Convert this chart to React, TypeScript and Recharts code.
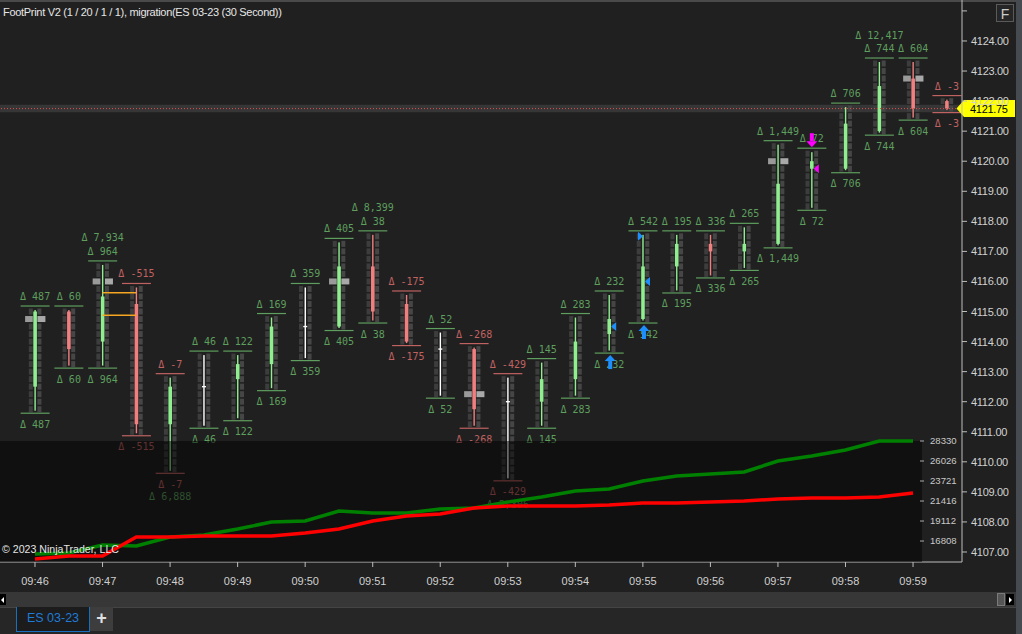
import React from 'react';
import { ComposedChart, Bar, XAxis, YAxis, ReferenceLine, ReferenceArea, LineChart, Line } from 'recharts';

// ---------- data ----------
const barIndex = [0, 1, 2, 3, 4, 5, 6, 7, 8, 9, 10, 11, 12, 13, 14, 15, 16, 17, 18, 19, 20, 21, 22, 23, 24, 25, 26, 27];
const opens = [4112.5, 4115.0, 4114.0, 4115.25, 4111.25, 4112.5, 4112.75, 4113.25, 4114.5, 4114.5, 4116.5, 4115.25, 4113.75, 4113.75, 4112.0, 4112.0, 4112.75, 4114.25, 4114.75, 4116.5, 4117.25, 4117.0, 4117.25, 4119.75, 4119.75, 4121.0, 4122.75, 4122.0];
const highs = [4115.0, 4115.0, 4116.5, 4115.75, 4112.75, 4113.5, 4113.5, 4114.75, 4115.75, 4117.25, 4117.5, 4115.5, 4114.25, 4113.75, 4112.75, 4113.25, 4114.75, 4115.5, 4117.5, 4117.5, 4117.5, 4117.75, 4120.5, 4120.25, 4121.75, 4123.25, 4123.25, 4122.0];
const lows = [4111.75, 4113.25, 4113.25, 4111.0, 4109.75, 4111.25, 4111.5, 4112.5, 4113.5, 4114.5, 4114.75, 4114.0, 4112.25, 4111.25, 4109.5, 4111.25, 4112.25, 4113.75, 4114.75, 4115.75, 4116.25, 4116.5, 4117.25, 4118.5, 4119.75, 4121.0, 4121.5, 4121.75];
const closes = [4115.0, 4113.75, 4115.5, 4111.25, 4112.5, 4112.5, 4113.25, 4114.5, 4114.5, 4116.5, 4115.0, 4114.0, 4113.75, 4111.75, 4112.0, 4112.75, 4114.0, 4114.75, 4116.5, 4117.25, 4117.0, 4117.25, 4119.25, 4120.0, 4121.25, 4122.5, 4121.75, 4121.75];
const deltas = [487, 60, 964, -515, -7, 46, 122, 169, 359, 405, 38, -175, 52, -268, -429, 145, 283, 232, 542, 195, 336, 265, 1449, 72, 706, 744, 604, -3];
const pocs: (number | null)[] = [4114.75, null, 4116.0, null, null, null, null, null, null, 4116.0, null, null, null, 4112.25, null, null, null, null, null, null, null, null, 4120.0, null, null, null, 4122.75, null];
const topExtra = [{ bar: 2, text: 'Δ 7,934' }, { bar: 10, text: 'Δ 8,399' }, { bar: 25, text: 'Δ 12,417' }];
const bottomExtra = [{ bar: 4, text: 'Δ 6,888' }, { bar: 14, text: 'Δ 5,306' }];
const upArrows = [17, 18];
const downArrows = [23];
const sideMarks = [
  { bar: 17, price: 4114.5, dir: 'left', color: '#1e8fff' },
  { bar: 18, price: 4116.0, dir: 'left', color: '#1e8fff' },
  { bar: 18, price: 4117.5, dir: 'right', color: '#1e8fff' },
  { bar: 23, price: 4119.75, dir: 'left', color: '#ff00ff' },
];
const zones = [{ from: 2, to: 3, top: 4115.625, bottom: 4114.875 }];
const timeLabels = ['09:46', '09:47', '09:48', '09:49', '09:50', '09:51', '09:52', '09:53', '09:54', '09:55', '09:56', '09:57', '09:58', '09:59'];
const timeTicks = [0, 2, 4, 6, 8, 10, 12, 14, 16, 18, 20, 22, 24, 26];
const priceTicks = [4107, 4108, 4109, 4110, 4111, 4112, 4113, 4114, 4115, 4116, 4117, 4118, 4119, 4120, 4121, 4122, 4123, 4124, 4125];
const lastPrice = 4121.75;

const buyLine = [15312, 15427, 16349, 16234, 17271, 17501, 18192, 19000, 19114, 20266, 20036, 20036, 20496, 20612, 21303, 21879, 22570, 22800, 23722, 24298, 24528, 24759, 26026, 26602, 27293, 28330, 28330];
const sellLine = [14736, 15082, 15082, 17271, 17271, 17386, 17386, 17386, 17732, 18192, 19114, 19690, 19920, 20612, 20842, 20842, 20842, 20957, 21188, 21188, 21303, 21418, 21648, 21764, 21764, 21879, 22340];
const volumeTicks = [16808, 19112, 21416, 23721, 26026, 28330];

const bars = barIndex.map((i) => ({
  i,
  open: opens[i],
  high: highs[i],
  low: lows[i],
  close: closes[i],
  delta: deltas[i],
  poc: pocs[i],
}));
const lineData = buyLine.map((b, i) => ({ i, buy: b, sell: sellLine[i] }));

// ---------- style ----------
const MONO = "'DejaVu Sans Mono', monospace";
const SANS = "'Liberation Sans', Arial, sans-serif";
const TXT_G = '#5e9e5e';
const TXT_R = '#c06262';
const BODY_G = '#90ee90';
const BODY_R = '#f08080';

const fmt = (v: number) => 'Δ ' + v.toLocaleString('en-US');

function Candle(props: any) {
  const { x, y, width, height, payload: d } = props;
  if (!d || !Number.isFinite(y) || !Number.isFinite(height)) return null;
  const c = x + width / 2;
  const k = height / (d.high - d.low);
  const py = (p: number) => y + (d.high - p) * k;
  const levels: number[] = [];
  for (let p = d.low; p <= d.high + 1e-6; p += 0.25) levels.push(p);
  const up = d.close > d.open;
  const down = d.close < d.open;
  const cColor = up ? BODY_G : down ? BODY_R : '#ffffff';
  const tColor = d.delta >= 0 ? TXT_G : TXT_R;
  const topLine = py(d.high) - 5.5;
  const botLine = py(d.low) + 4;
  const bTop = Math.min(py(d.open), py(d.close));
  const bH = Math.max(Math.abs(py(d.open) - py(d.close)), 1.5);
  const tEx = topExtra.filter((e) => e.bar === d.i);
  const bEx = bottomExtra.filter((e) => e.bar === d.i);
  const marks = sideMarks.filter((m) => m.bar === d.i);
  return (
    <g>
      {levels.map((p) => {
        const yy = py(p);
        const isPoc = d.poc != null && Math.abs(p - d.poc) < 1e-6;
        return (
          <g key={p}>
            <rect x={c - (isPoc ? 10 : 6.3)} y={yy - 3} width={isPoc ? 7.7 : 4} height={6} fill={isPoc ? '#9a9a9a' : '#3d3d3d'} />
            <rect x={c + 2.3} y={yy - 3} width={isPoc ? 8 : 4} height={6} fill={isPoc ? '#a9a9a9' : '#464646'} />
          </g>
        );
      })}
      <rect x={c - 0.7} y={py(d.high) - 1.5} width={1.4} height={py(d.low) - py(d.high) + 3} fill={cColor} />
      {up || down ? (
        <rect x={c - 1.8} y={bTop} width={3.6} height={bH} fill={cColor} />
      ) : (
        <rect x={c - 2} y={py(d.open) - 0.7} width={4} height={1.4} fill="#ffffff" />
      )}
      <line x1={c - 14.5} x2={c + 14.5} y1={topLine} y2={topLine} stroke={tColor} strokeWidth={1.2} />
      <line x1={c - 14.5} x2={c + 14.5} y1={botLine} y2={botLine} stroke={tColor} strokeWidth={1.2} />
      <text x={c} y={topLine - 6} textAnchor="middle" fontFamily={MONO} fontSize={10} fill={tColor}>{fmt(d.delta)}</text>
      <text x={c} y={botLine + 14.5} textAnchor="middle" fontFamily={MONO} fontSize={10} fill={tColor}>{fmt(d.delta)}</text>
      {tEx.map((e) => (
        <text key={e.text} x={c} y={topLine - 19.5} textAnchor="middle" fontFamily={MONO} fontSize={10} fill={TXT_G}>{e.text}</text>
      ))}
      {bEx.map((e) => (
        <text key={e.text} x={c} y={botLine + 27} textAnchor="middle" fontFamily={MONO} fontSize={10} fill={TXT_G}>{e.text}</text>
      ))}
      {marks.map((m, j) => {
        const yy = py(m.price);
        const pts = m.dir === 'left'
          ? `${c + 2},${yy} ${c + 7},${yy - 4.5} ${c + 7},${yy + 4.5}`
          : `${c},${yy} ${c - 5},${yy - 4.5} ${c - 5},${yy + 4.5}`;
        return <polygon key={j} points={pts} fill={m.color} />;
      })}
      {upArrows.includes(d.i) && (
        <g fill="#1e8fff">
          <polygon points={`${c + 1},${botLine + 2} ${c - 4.5},${botLine + 8} ${c + 6.5},${botLine + 8}`} />
          <rect x={c - 1} y={botLine + 8} width={4} height={8} />
        </g>
      )}
      {downArrows.includes(d.i) && (
        <g fill="#ff00ff">
          <rect x={c - 2} y={topLine - 15} width={4} height={8} />
          <polygon points={`${c - 5.5},${topLine - 7} ${c + 5.5},${topLine - 7} ${c},${topLine - 1}`} />
        </g>
      )}
    </g>
  );
}

function PriceTick(props: any) {
  const { x, y, payload } = props;
  if (payload.value >= 4125) return null;
  return (
    <text x={x} y={y} dy={4} fill="#d2d2d2" fontSize={11} fontFamily={SANS} letterSpacing={-0.3} textAnchor="start">
      {Number(payload.value).toFixed(2)}
    </text>
  );
}

function PriceTag(props: any) {
  const vb = props.viewBox || {};
  const yy = vb.y;
  const right = (vb.x || 0) + (vb.width || 0);
  if (!Number.isFinite(yy)) return null;
  const tip = right - 5.5;
  return (
    <g>
      <path d={`M${tip},${yy} L${right + 2},${yy - 8.5} L${right + 53},${yy - 8.5} L${right + 53},${yy + 8.5} L${right + 2},${yy + 8.5} Z`} fill="#ffff00" />
      <text x={right + 8} y={yy + 4} fontSize={11} fontFamily={SANS} letterSpacing={-0.3} fill="#000000">{lastPrice.toFixed(2)}</text>
    </g>
  );
}

export default function App() {
  return (
    <div style={{ position: 'fixed', left: 0, top: 0, width: 1022, height: 634, background: '#202020', overflow: 'hidden', fontFamily: SANS }}>
      <div style={{ position: 'absolute', left: 0, top: 0, width: 1022, height: 2, background: '#4a4a4a' }} />
      <div style={{ position: 'absolute', left: 0, top: 0 }}>
        <ComposedChart width={1022} height={593} data={bars} margin={{ top: 0, right: 0, bottom: 0, left: 0 }}>
          <XAxis
            dataKey="i"
            type="number"
            domain={[-1.0364, 27.45]}
            ticks={timeTicks}
            interval={0}
            height={31}
            tickSize={5}
            tickMargin={10}
            tickFormatter={(v: number) => timeLabels[Math.round(v / 2)] || ''}
            tick={{ fill: '#cfcfcf', fontSize: 11, fontFamily: SANS }}
            axisLine={{ stroke: '#bdbdbd' }}
            tickLine={{ stroke: '#bdbdbd' }}
          />
          <YAxis
            orientation="right"
            type="number"
            width={60}
            domain={[4106.667, 4125.363]}
            ticks={priceTicks}
            interval={0}
            tickSize={5}
            tickMargin={4}
            tick={<PriceTick />}
            axisLine={{ stroke: '#bdbdbd' }}
            tickLine={{ stroke: '#bdbdbd' }}
          />
          <ReferenceArea y1={lastPrice - 0.125} y2={lastPrice + 0.125} fill="#363636" fillOpacity={1} stroke="none" />
          <Bar dataKey={(d: any) => [d.low, d.high]} barSize={30} shape={(p: any) => <Candle {...p} />} isAnimationActive={false} />
          {zones.map((z, j) => (
            <ReferenceLine key={'zt' + j} segment={[{ x: z.from, y: z.top }, { x: z.to, y: z.top }]} stroke="#f5a623" strokeWidth={1.5} />
          ))}
          {zones.map((z, j) => (
            <ReferenceLine key={'zb' + j} segment={[{ x: z.from, y: z.bottom }, { x: z.to, y: z.bottom }]} stroke="#f5a623" strokeWidth={1.5} />
          ))}
          <ReferenceLine y={lastPrice} stroke="#d85050" strokeDasharray="1 2" strokeWidth={1} label={(p: any) => <PriceTag {...p} />} />
        </ComposedChart>
      </div>
      <div style={{ position: 'absolute', left: 0, top: 441, width: 922, height: 121, background: 'rgba(0,0,0,0.5)' }} />
      <div style={{ position: 'absolute', left: 0, top: 433 }}>
        <LineChart width={962} height={141} data={lineData} margin={{ top: 8, right: 0, bottom: 12, left: 0 }}>
          <XAxis dataKey="i" type="number" domain={[-1.0364, 26.207]} hide />
          <YAxis
            orientation="right"
            type="number"
            width={42}
            domain={[14391, 28330]}
            ticks={volumeTicks}
            interval={0}
            axisLine={false}
            tickSize={4}
            tickMargin={6}
            tick={{ fill: '#c8c8c8', fontSize: 9.6, fontFamily: SANS }}
            tickLine={{ stroke: '#aaaaaa' }}
          />
          <Line dataKey="buy" stroke="#008000" strokeWidth={3.5} dot={false} isAnimationActive={false} />
          <Line dataKey="sell" stroke="#ff0000" strokeWidth={3.5} dot={false} isAnimationActive={false} />
        </LineChart>
      </div>
      <div style={{ position: 'absolute', left: 2, top: 543, fontSize: 10.6, color: '#e4e4e4', whiteSpace: 'nowrap' }}>© 2023 NinjaTrader, LLC</div>
      <div style={{ position: 'absolute', left: 3, top: 6, fontSize: 11, letterSpacing: -0.3, color: '#e6e6e6', whiteSpace: 'nowrap' }}>
        FootPrint V2 (1 / 20 / 1 / 1), migration(ES 03-23 (30 Second))
      </div>
      <div style={{ position: 'absolute', left: 996, top: 4, width: 18, height: 18, border: '1px solid #5a5a5a', background: '#262626', color: '#cccccc', fontSize: 14, lineHeight: '18px', textAlign: 'center', boxSizing: 'border-box' }}>F</div>
      <div style={{ position: 'absolute', left: 0, top: 592, width: 1022, height: 15, background: '#373737' }} />
      <div style={{ position: 'absolute', left: 0, top: 594, width: 6, height: 11, background: '#000000' }}>
        <div style={{ position: 'absolute', left: 1, top: 3, width: 0, height: 0, borderTop: '3px solid transparent', borderBottom: '3px solid transparent', borderRight: '3px solid #ffffff' }} />
      </div>
      <div style={{ position: 'absolute', left: 997, top: 593, width: 8, height: 13, background: '#555555', border: '1px solid #7a7a7a', boxSizing: 'border-box' }} />
      <div style={{ position: 'absolute', left: 1006, top: 594, width: 8, height: 11, background: '#000000' }}>
        <div style={{ position: 'absolute', left: 3, top: 3, width: 0, height: 0, borderTop: '3px solid transparent', borderBottom: '3px solid transparent', borderLeft: '3px solid #ffffff' }} />
      </div>
      <div style={{ position: 'absolute', left: 0, top: 607, width: 1022, height: 27, background: '#262626', borderTop: '1px solid #444444', boxSizing: 'border-box' }} />
      <div style={{ position: 'absolute', left: 16, top: 607, width: 74, height: 25, background: '#1c1c1c', borderLeft: '1.5px solid #1a6fc0', borderRight: '1.5px solid #1a6fc0', borderBottom: '1.5px solid #1a6fc0', boxSizing: 'border-box', color: '#1f7bd6', fontSize: 12.5, lineHeight: '23px', textAlign: 'center' }}>ES 03-23</div>
      <div style={{ position: 'absolute', left: 90, top: 607, width: 23, height: 24, background: '#3d3d3d', color: '#e0e0e0', fontSize: 18, fontWeight: 'bold', lineHeight: '23px', textAlign: 'center' }}>+</div>
      <div style={{ position: 'absolute', left: 1016, top: 0, width: 6, height: 634, background: '#464b51' }} />
    </div>
  );
}
